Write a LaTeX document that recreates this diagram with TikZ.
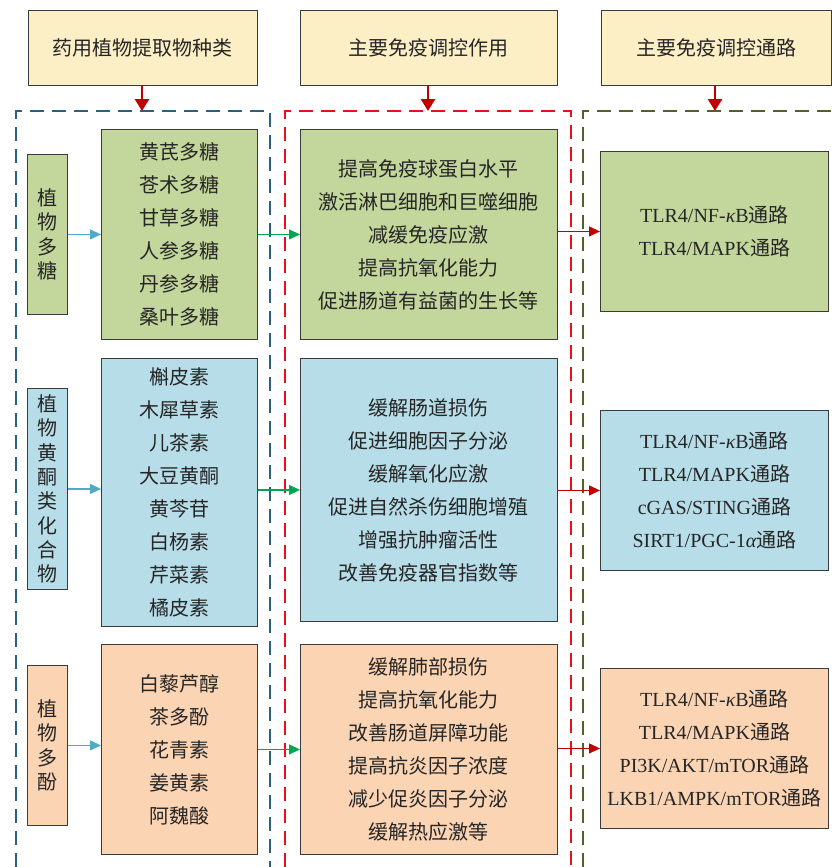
\documentclass[tikz,border=0pt]{standalone}
\usepackage{fontspec}
\setmainfont{Liberation Serif}
\newfontfamily\cjk{Noto Sans CJK SC}
\usetikzlibrary{arrows.meta}
\definecolor{hdrfill}{HTML}{FCEFC6}
\definecolor{gfill}{HTML}{C3D69B}
\definecolor{bfill}{HTML}{B7DDE8}
\definecolor{pfill}{HTML}{FBD4B4}
\definecolor{edge}{HTML}{3A3A3A}
\definecolor{txt}{HTML}{262626}
\definecolor{darkred}{HTML}{C00000}
\definecolor{tealarr}{HTML}{4BACC6}
\definecolor{greenarr}{HTML}{00A650}
\definecolor{bluedash}{HTML}{2B6180}
\definecolor{reddash}{HTML}{E8101A}
\definecolor{olivedash}{HTML}{4F6228}
\newcommand\tonglu{{\cjk 通路}}
\tikzset{
  box/.style={draw=edge, line width=0.9pt, inner sep=0pt, anchor=north west, align=center, text=txt},
  hdrbox/.style={box, fill=hdrfill, font=\cjk\fontsize{20}{24}\selectfont},
  listbox/.style={box, font=\cjk\fontsize{20}{33}\selectfont},
  pathbox/.style={box, font=\fontsize{20}{33}\selectfont},
  vbox/.style={box, font=\cjk\fontsize{20}{24.3}\selectfont, minimum width=40pt},
  hdrarrow/.style={draw=darkred, line width=2.6pt, -{Triangle[length=12pt,width=14pt]}},
  thinarrow/.style={line width=1.1pt, -{Triangle[length=11pt,width=10pt]}},
  dashframe/.style={line width=1.8pt, dash pattern=on 14pt off 8pt}
}
\begin{document}
\begin{tikzpicture}[x=1pt,y=-1pt]
\useasboundingbox (0,0) rectangle (831,867);
% headers
\node[hdrbox, minimum width=229pt, minimum height=75pt] (h1) at (28,10) {药用植物提取物种类};
\node[hdrbox, minimum width=257pt, minimum height=75pt] (h2) at (300,10) {主要免疫调控作用};
\node[hdrbox, minimum width=230pt, minimum height=75pt] (h3) at (601,10) {主要免疫调控通路};
% dashed frames
\draw[dashframe, draw=bluedash] (16,867) -- (16,111) -- (270,111) -- (270,867);
\draw[dashframe, draw=reddash] (285,867) -- (285,111) -- (571,111) -- (571,867);
\draw[dashframe, draw=olivedash] (583,867) -- (583,111) -- (831,111);
\coordinate (t1) at (142,111);
\coordinate (t2) at (428,111);
\coordinate (t3) at (715,111);
\draw[hdrarrow] (h1.south -| t1) -- (t1);
\draw[hdrarrow] (h2.south -| t2) -- (t2);
\draw[hdrarrow] (h3.south -| t3) -- (t3);
% row 1
\node[vbox, fill=gfill, minimum height=160pt] (s1) at (27,154) {植\\物\\多\\糖};
\node[listbox, fill=gfill, minimum width=156pt, minimum height=210pt] (p1) at (101,129) {黄芪多糖\\苍术多糖\\甘草多糖\\人参多糖\\丹参多糖\\桑叶多糖};
\node[listbox, fill=gfill, minimum width=257pt, minimum height=210pt] (e1) at (300,129) {提高免疫球蛋白水平\\激活淋巴细胞和巨噬细胞\\减缓免疫应激\\提高抗氧化能力\\促进肠道有益菌的生长等};
\node[pathbox, fill=gfill, minimum width=228pt, minimum height=160pt] (w1) at (600,151) {TLR4/NF-{\itshape κ}B\tonglu\\TLR4/MAPK\tonglu};
% row 2
\node[vbox, fill=bfill, minimum height=201pt] (s2) at (27,388) {植\\物\\黄\\酮\\类\\化\\合\\物};
\node[listbox, fill=bfill, minimum width=156pt, minimum height=268pt] (p2) at (101,358) {槲皮素\\木犀草素\\儿茶素\\大豆黄酮\\黄芩苷\\白杨素\\芹菜素\\橘皮素};
\node[listbox, fill=bfill, minimum width=257pt, minimum height=263pt] (e2) at (300,358) {缓解肠道损伤\\促进细胞因子分泌\\缓解氧化应激\\促进自然杀伤细胞增殖\\增强抗肿瘤活性\\改善免疫器官指数等};
\node[pathbox, fill=bfill, minimum width=228pt, minimum height=160pt] (w2) at (600,410) {TLR4/NF-{\itshape κ}B\tonglu\\TLR4/MAPK\tonglu\\cGAS/STING\tonglu\\SIRT1/PGC-1{\itshape α}\tonglu};
% row 3
\node[vbox, fill=pfill, minimum height=160pt] (s3) at (27,665) {植\\物\\多\\酚};
\node[listbox, fill=pfill, minimum width=156pt, minimum height=210pt] (p3) at (101,644) {白藜芦醇\\茶多酚\\花青素\\姜黄素\\阿魏酸};
\node[listbox, fill=pfill, minimum width=257pt, minimum height=210pt] (e3) at (300,644) {缓解肺部损伤\\提高抗氧化能力\\改善肠道屏障功能\\提高抗炎因子浓度\\减少促炎因子分泌\\缓解热应激等};
\node[pathbox, fill=pfill, minimum width=228pt, minimum height=160pt] (w3) at (600,668) {TLR4/NF-{\itshape κ}B\tonglu\\TLR4/MAPK\tonglu\\PI3K/AKT/mTOR\tonglu\\LKB1/AMPK/mTOR\tonglu};
% connectors
\foreach \i in {1,2,3}{
  \draw[thinarrow, draw=tealarr, fill=tealarr] (s\i.east) -- (s\i.east -| p\i.west);
  \draw[thinarrow, draw=greenarr, fill=greenarr] (p\i.east |- e\i.west) -- (e\i.west);
  \draw[thinarrow, draw=darkred, fill=darkred] (e\i.east |- w\i.west) -- (w\i.west);
}
\end{tikzpicture}
\end{document}
